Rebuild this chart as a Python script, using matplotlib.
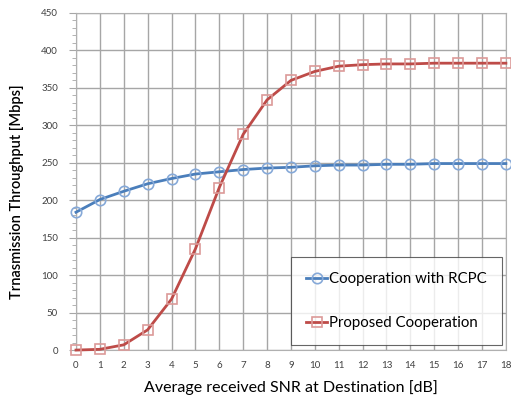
import numpy as np
import matplotlib.pyplot as plt
from matplotlib.ticker import MultipleLocator

# data
snr = np.arange(0, 19)
rcpc = [184, 201, 212, 222, 229, 235, 238, 241, 243, 244, 246, 247, 247, 248, 248, 249, 249, 249, 249]
proposed = [0, 1, 7, 27, 68, 135, 217, 288, 334, 360, 372, 379, 381, 382, 382, 383, 383, 383, 383]

plt.rcParams['font.family'] = ['Lato', 'DejaVu Sans']

fig = plt.figure(figsize=(5.11, 4.01), dpi=100)
ax = fig.add_axes([0.1487, 0.127, 0.8413, 0.8406])

ax.plot(snr, rcpc, '-', color='#4a7ebb', lw=2, marker='o', ms=7.5,
        mfc='none', mec='#86a9d8', mew=1.2, clip_on=False, zorder=3,
        label='Cooperation with RCPC')
ax.plot(snr, proposed, '-', color='#be4b48', lw=2, marker='s', ms=7.5,
        mfc='none', mec='#dc9a98', mew=1.2, clip_on=False, zorder=3,
        label='Proposed Cooperation')

ax.set_xlim(0, 18)
ax.set_ylim(0, 450)
ax.set_xticks(snr)
ax.yaxis.set_major_locator(MultipleLocator(50))
ax.yaxis.set_minor_locator(MultipleLocator(10))
ax.grid(True, which='major', color='#a6a6a6', lw=1)
ax.set_axisbelow(True)
for s in ax.spines.values():
    s.set_color('#b0b0b0')
ax.tick_params(axis='both', which='both', colors='#a6a6a6', labelcolor='#404040', labelsize=7)
ax.tick_params(axis='x', length=0, pad=8)
ax.tick_params(axis='y', which='major', length=5, pad=8)
ax.tick_params(axis='y', which='minor', length=3)

ax.set_xlabel('Average received SNR at Destination [dB]', fontsize=11.5, labelpad=7)
ax.set_ylabel('Trnasmission Throughput [Mbps]', fontsize=10.5,
              fontweight='semibold')
ax.yaxis.set_label_coords(-0.12, 0.47)

leg = ax.legend(loc='lower right', bbox_to_anchor=(0.99, 0.015), fontsize=10.8,
                frameon=True, fancybox=False, handlelength=1.4, handletextpad=0.1,
                labelspacing=2.0, borderpad=1.0, borderaxespad=0)
leg.get_frame().set_edgecolor('#404040')
leg.get_frame().set_linewidth(0.8)

fig.savefig('out.png', dpi=100)
